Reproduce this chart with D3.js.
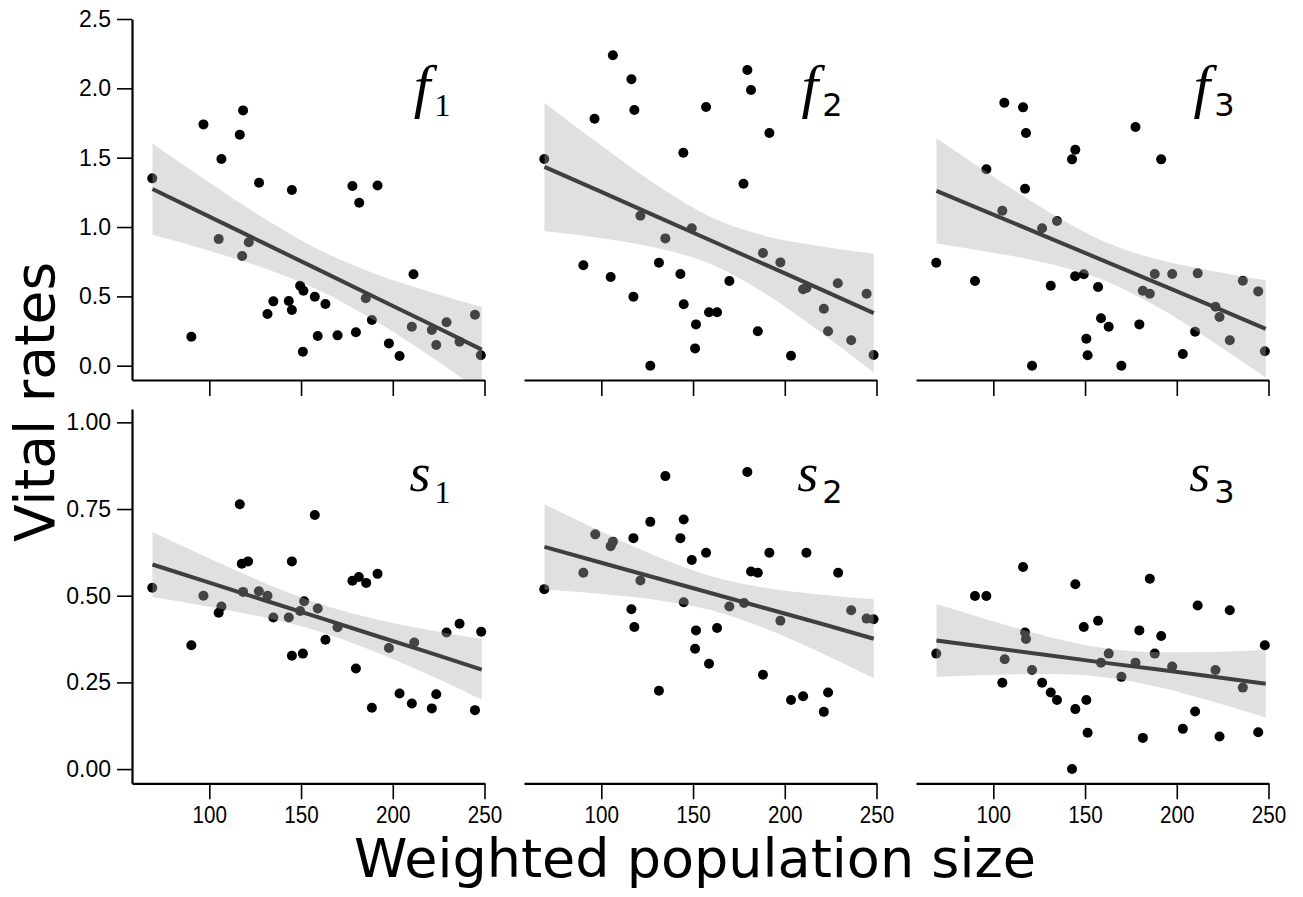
<!DOCTYPE html>
<html>
<head>
<meta charset="utf-8">
<script src="https://cdn.jsdelivr.net/npm/d3@7"></script>
<style>
  body { margin: 0; background: #fff; }
  svg { display: block; }
</style>
</head>
<body>
<svg id="chart" width="1303" height="897"></svg>
<script>
// x ticks shared by every panel
const popTicks = [100, 150, 200, 250];
const fecTicks = [0, 0.5, 1, 1.5, 2, 2.5];
const survTicks = [0, 0.25, 0.5, 0.75, 1];

// points: [weighted population size, vital rate]
const f1Pts = [[68.9,1.351],[96.8,1.740],[118.4,1.841],[116.6,1.665],[106.6,1.490],[127.1,1.319],[145,1.267],[178,1.296],[191.7,1.300],[181.7,1.175],
  [105.1,0.913],[121.5,0.890],[117.9,0.791],[90.2,0.209],[149.5,0.577],[151.3,0.541],[157.5,0.497],[163.3,0.445],[134.9,0.464],[143.3,0.466],
  [145,0.402],[131.7,0.373],[185.3,0.486],[188.6,0.329],[211.3,0.659],[210.4,0.281],[221.3,0.257],[223.7,0.149],[229.3,0.313],[236.4,0.173],
  [244.8,0.368],[248,0.075],[151,0.101],[159.1,0.214],[169.9,0.219],[179.9,0.241],[197.9,0.161],[203.7,0.070]];
const f2Pts = [[68.9,1.490],[96.3,1.781],[106.3,2.238],[116.4,2.065],[118,1.844],[144.7,1.536],[157.1,1.865],[179.6,2.132],[181.6,1.988],[177.5,1.312],
  [191.6,1.678],[121.3,1.081],[149.3,0.991],[134.9,0.918],[90.2,0.724],[105.1,0.640],[117.5,0.497],[131.4,0.743],[143.1,0.661],[144.9,0.443],
  [151.6,0.298],[151.1,0.125],[126.7,0.0],[158.7,0.385],[163.1,0.385],[169.8,0.611],[185.3,0.248],[188.1,0.813],[197.6,0.745],[210,0.551],
  [211.8,0.560],[221.3,0.411],[223.6,0.248],[228.9,0.594],[236.2,0.183],[244.6,0.519],[248.4,0.077],[203.4,0.072]];
const f3Pts = [[68.9,0.743],[90,0.611],[96.2,1.416],[106,1.896],[116.2,1.863],[117.8,1.678],[117.3,1.276],[104.9,1.118],[126.6,0.991],[134.7,1.043],
  [131.3,0.577],[144.7,1.557],[142.9,1.488],[144.6,0.645],[149.3,0.659],[157.1,0.567],[158.7,0.342],[162.9,0.281],[150.7,0.195],[151.4,0.075],
  [121.1,0.0],[169.8,0.0],[177.5,1.721],[191.5,1.488],[181.5,0.541],[185.3,0.519],[188,0.661],[197.5,0.661],[211.4,0.666],[179.6,0.298],
  [203.3,0.084],[210,0.245],[221.1,0.425],[223.3,0.351],[228.9,0.183],[236,0.613],[244.4,0.536],[248,0.104]];
const s1Pts = [[68.9,0.523],[90.2,0.357],[96.8,0.500],[105.1,0.451],[106.6,0.469],[116.6,0.764],[117.7,0.592],[121.1,0.599],[118.4,0.511],[127,0.513],
  [131.7,0.500],[134.9,0.437],[143.3,0.437],[145,0.327],[145,0.599],[151,0.333],[149.5,0.456],[151.7,0.484],[157.5,0.733],[159.1,0.463],
  [163.3,0.373],[169.9,0.409],[178,0.543],[181.5,0.554],[185.5,0.537],[191.7,0.563],[179.9,0.290],[188.6,0.177],[197.9,0.349],[203.7,0.218],
  [210.4,0.189],[211.7,0.365],[221.3,0.175],[223.7,0.216],[229.3,0.394],[236.4,0.419],[244.8,0.170],[248.2,0.396]];
const s2Pts = [[68.9,0.519],[90.2,0.566],[96.7,0.677],[105.1,0.643],[106.3,0.656],[117.5,0.666],[121.3,0.544],[116.4,0.461],[118,0.410],[126.7,0.713],
  [131.4,0.226],[134.9,0.845],[143.1,0.666],[144.9,0.720],[149.3,0.603],[144.9,0.481],[151.6,0.400],[151.1,0.347],[157.1,0.624],[158.7,0.304],
  [163.1,0.407],[169.8,0.469],[177.8,0.479],[179.6,0.857],[181.6,0.570],[185.3,0.566],[188.1,0.272],[191.6,0.624],[197.6,0.428],[203.4,0.199],
  [210,0.210],[211.8,0.624],[221.3,0.165],[223.6,0.221],[229.1,0.566],[236.2,0.458],[244.6,0.434],[248.4,0.432]];
const s3Pts = [[68.9,0.333],[90,0.499],[96.2,0.499],[104.9,0.249],[106.2,0.317],[116.2,0.583],[117.3,0.394],[117.8,0.375],[121.1,0.286],[126.6,0.249],
  [131.3,0.221],[134.7,0.199],[142.9,0.0],[144.7,0.533],[144.7,0.173],[149.3,0.410],[150.7,0.199],[151.4,0.105],[157.1,0.428],[158.7,0.307],
  [162.9,0.333],[169.8,0.266],[177.5,0.307],[179.6,0.400],[181.5,0.090],[185.3,0.549],[188,0.333],[191.5,0.384],[197.5,0.296],[203.3,0.116],
  [210,0.166],[211.4,0.472],[221.1,0.286],[223.3,0.094],[228.9,0.458],[236,0.235],[244.4,0.106],[248,0.357]];

// fitted line and confidence band, read at these x positions
const fitX = [69, 100, 130, 160, 190, 220, 248.5];
const f1Fit = [1.274, 1.075, 0.882, 0.689, 0.496, 0.303, 0.116];
const f1Lo  = [0.945, 0.829, 0.703, 0.543, 0.327, 0.072, -0.191];
const f1Hi  = [1.603, 1.321, 1.061, 0.835, 0.665, 0.534, 0.423];
const f2Fit = [1.434, 1.253, 1.077, 0.901, 0.725, 0.549, 0.379];
const f2Lo  = [0.971, 0.919, 0.850, 0.732, 0.516, 0.238, -0.050];
const f2Hi  = [1.897, 1.587, 1.304, 1.070, 0.934, 0.860, 0.808];
const f3Fit = [1.261, 1.090, 0.924, 0.758, 0.592, 0.426, 0.265];
const f3Lo  = [0.881, 0.815, 0.737, 0.618, 0.419, 0.170, -0.087];
const f3Hi  = [1.641, 1.365, 1.111, 0.898, 0.765, 0.682, 0.617];
const s1Fit = [0.590, 0.538, 0.487, 0.437, 0.386, 0.336, 0.287];
const s1Lo  = [0.496, 0.468, 0.437, 0.397, 0.339, 0.271, 0.200];
const s1Hi  = [0.684, 0.608, 0.537, 0.477, 0.433, 0.401, 0.375];
const s2Fit = [0.641, 0.595, 0.551, 0.507, 0.463, 0.419, 0.376];
const s2Lo  = [0.518, 0.505, 0.488, 0.458, 0.404, 0.335, 0.262];
const s2Hi  = [0.764, 0.685, 0.614, 0.556, 0.522, 0.503, 0.490];
const s3Fit = [0.371, 0.349, 0.328, 0.307, 0.287, 0.266, 0.246];
const s3Lo  = [0.266, 0.272, 0.274, 0.265, 0.237, 0.194, 0.149];
const s3Hi  = [0.476, 0.426, 0.382, 0.349, 0.337, 0.338, 0.344];

const panels = [
  { sym: "f", sub: "1", row: 0, col: 0, pts: f1Pts, fit: f1Fit, lo: f1Lo, hi: f1Hi },
  { sym: "f", sub: "2", row: 0, col: 1, pts: f2Pts, fit: f2Fit, lo: f2Lo, hi: f2Hi },
  { sym: "f", sub: "3", row: 0, col: 2, pts: f3Pts, fit: f3Fit, lo: f3Lo, hi: f3Hi },
  { sym: "s", sub: "1", row: 1, col: 0, pts: s1Pts, fit: s1Fit, lo: s1Lo, hi: s1Hi },
  { sym: "s", sub: "2", row: 1, col: 1, pts: s2Pts, fit: s2Fit, lo: s2Lo, hi: s2Hi },
  { sym: "s", sub: "3", row: 1, col: 2, pts: s3Pts, fit: s3Fit, lo: s3Lo, hi: s3Hi }
];

const svg = d3.select("#chart");
const colLeft = [132, 524, 916];
const colWidth = 352.5;
const rows = [
  { top: 19, bottom: 380, domain: [-0.103, 2.5], ticks: fecTicks, fmt: d3.format(".1f"), labelY: 106, symSize: 60, subDy: 10 },
  { top: 409, bottom: 783.3, domain: [-0.041, 1.0385], ticks: survTicks, fmt: d3.format(".2f"), labelY: 491, symSize: 54, subDy: 12 }
];

const tickFont = "'Liberation Sans', Arial, sans-serif";

panels.forEach((p, i) => {
  const r = rows[p.row];
  const x0 = colLeft[p.col];
  const x = d3.scaleLinear().domain([57.85, 250]).range([x0, x0 + colWidth]);
  const y = d3.scaleLinear().domain(r.domain).range([r.bottom, r.top]);
  const g = svg.append("g");

  g.append("clipPath").attr("id", "clip" + i)
    .append("rect")
    .attr("x", x0).attr("y", r.top)
    .attr("width", colWidth).attr("height", r.bottom - r.top);

  g.selectAll("circle")
    .data(p.pts)
    .join("circle")
    .attr("cx", d => x(d[0]))
    .attr("cy", d => y(d[1]))
    .attr("r", 5)
    .attr("fill", "#000");

  const band = fitX.map((v, k) => ({ x: v, lo: p.lo[k], hi: p.hi[k], fit: p.fit[k] }));
  const fitted = g.append("g").attr("clip-path", `url(#clip${i})`);
  fitted.append("path")
    .datum(band)
    .attr("d", d3.area().curve(d3.curveMonotoneX).x(d => x(d.x)).y0(d => y(d.lo)).y1(d => y(d.hi)))
    .attr("fill", "#afafaf")
    .attr("fill-opacity", 0.39);
  fitted.append("path")
    .datum(band)
    .attr("d", d3.line().x(d => x(d.x)).y(d => y(d.fit)))
    .attr("fill", "none")
    .attr("stroke", "#3f3f3f")
    .attr("stroke-width", 4);

  // x axis on every panel, labels only on the bottom row
  const xAxis = d3.axisBottom(x).tickValues(popTicks).tickSize(16).tickSizeOuter(0).tickPadding(7);
  if (p.row === 0) xAxis.tickFormat("");
  const gx = g.append("g").attr("transform", `translate(0,${r.bottom})`).call(xAxis);
  gx.select(".domain").attr("stroke-width", 2.2);
  gx.selectAll(".tick line").attr("stroke-width", 1.6);
  gx.selectAll("text")
    .attr("font-family", tickFont)
    .attr("font-size", 24)
    .attr("transform", "scale(0.86,1)")
    .attr("fill", "#000");

  if (p.col === 0) {
    const yAxis = d3.axisLeft(y).tickValues(r.ticks).tickFormat(r.fmt).tickSize(15).tickSizeOuter(0).tickPadding(6);
    const gy = g.append("g").attr("transform", `translate(${x0},0)`).call(yAxis);
    gy.select(".domain").attr("stroke-width", 2.2);
    gy.selectAll(".tick line").attr("stroke-width", 1.6);
    gy.selectAll("text").attr("font-family", tickFont).attr("font-size", 23).attr("fill", "#000");
  }

  // panel label, e.g. f_1
  const lab = g.append("text")
    .attr("x", x0 + colWidth - 34)
    .attr("y", r.labelY)
    .attr("text-anchor", "end")
    .attr("fill", "#000");
  lab.append("tspan")
    .attr("font-family", "'Liberation Serif', 'DejaVu Serif', serif")
    .attr("font-style", "italic")
    .attr("font-size", r.symSize)
    .text(p.sym);
  lab.append("tspan")
    .attr("dx", 4)
    .attr("dy", r.subDy)
    .attr("font-family", p.sub === "1" ? "'Liberation Serif', serif" : "'DejaVu Sans', sans-serif")
    .attr("font-size", 32)
    .text(p.sub);
});

svg.append("text")
  .attr("transform", "translate(54,402) rotate(-90)")
  .attr("text-anchor", "middle")
  .attr("font-family", "'DejaVu Sans', sans-serif")
  .attr("font-size", 55)
  .attr("fill", "#000")
  .text("Vital rates");

svg.append("text")
  .attr("x", 695)
  .attr("y", 877)
  .attr("text-anchor", "middle")
  .attr("font-family", "'DejaVu Sans', sans-serif")
  .attr("font-size", 54)
  .attr("fill", "#000")
  .text("Weighted population size");
</script>
</body>
</html>
